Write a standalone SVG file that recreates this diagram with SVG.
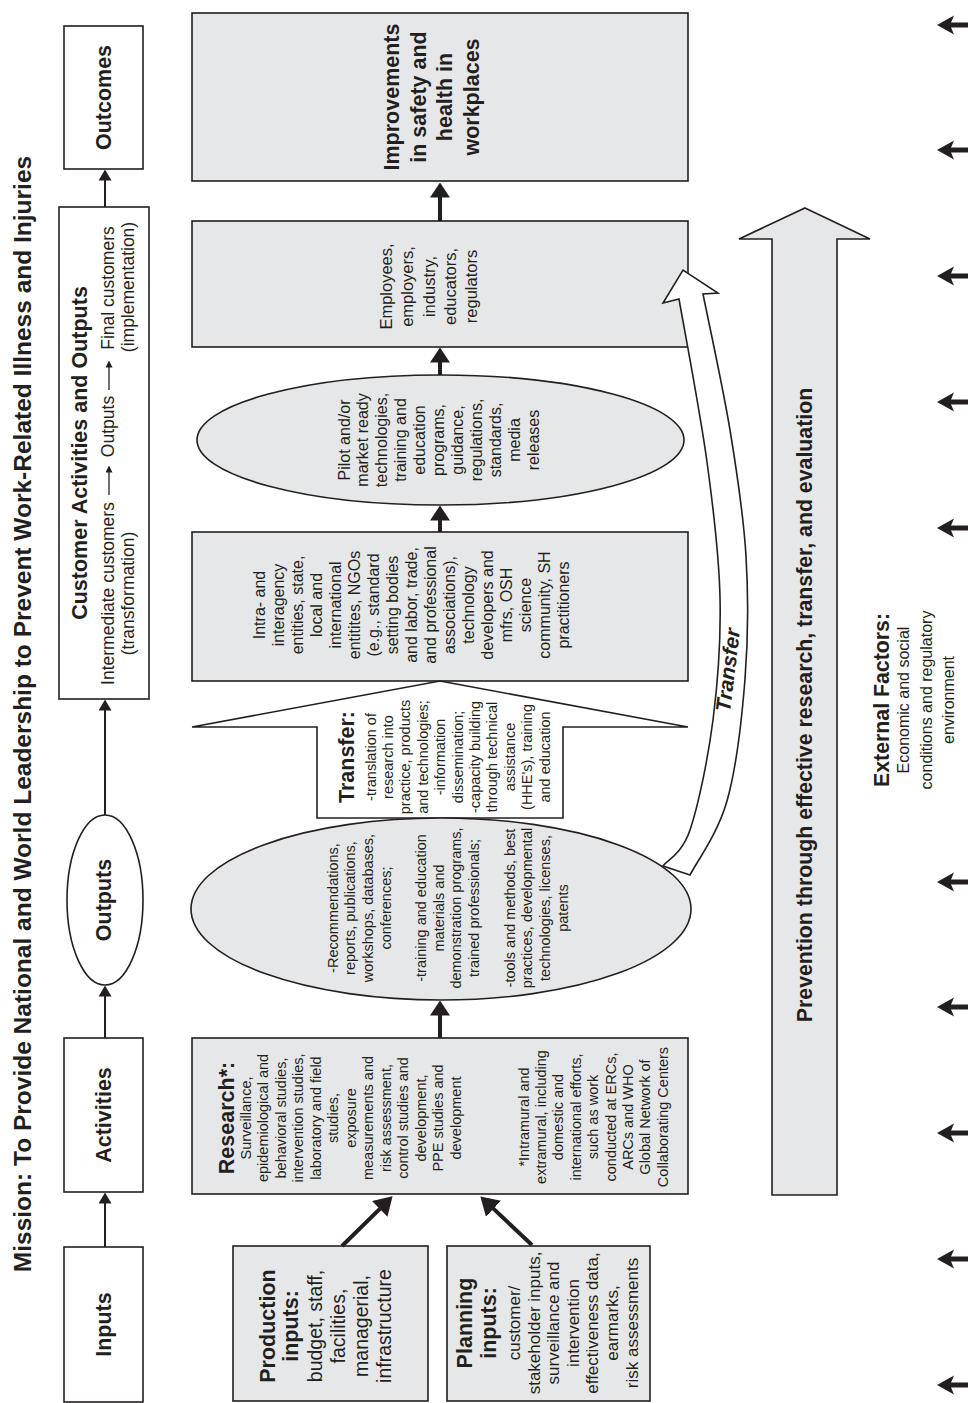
<svg xmlns="http://www.w3.org/2000/svg" width="968" height="1403" viewBox="0 0 968 1403">
<style>
text{font-family:'Liberation Sans',Arial,Helvetica,sans-serif;fill:#231f20;text-anchor:middle}
.ttl{font-size:24.5px;font-weight:bold}
.h{font-size:21.5px;font-weight:bold}
.cs{font-size:17.5px}
.m{font-size:16.5px}
.p{font-size:16px}
.s{font-size:14.5px}
.pr{font-size:19.5px}
.pl{font-size:17px}
.ex{font-size:16px}
.ti{font-size:21px;font-weight:bold;font-style:italic}
.box{fill:#e6e7e8;stroke:#231f20;stroke-width:1.6}
.wbox{fill:#fff;stroke:#231f20;stroke-width:1.6}
.c{fill:none;stroke:#231f20}
.thin{stroke-width:2}
.thick{stroke-width:4}
</style>
<defs>
<marker id="ah" viewBox="0 0 11 13" refX="0.5" refY="6.5" markerWidth="11" markerHeight="13" markerUnits="userSpaceOnUse" orient="auto"><path d="M0,0 L11,6.5 L0,13 z" fill="#231f20"/></marker>
<marker id="ahT" viewBox="0 0 15 20" refX="0.5" refY="10" markerWidth="15" markerHeight="20" markerUnits="userSpaceOnUse" orient="auto"><path d="M0,0 L15,10 L0,20 z" fill="#231f20"/></marker>
<marker id="ahD" viewBox="0 0 18 22" refX="0.5" refY="11" markerWidth="18" markerHeight="22" markerUnits="userSpaceOnUse" orient="auto"><path d="M0,0 L18,11 L0,22 z" fill="#231f20"/></marker>
<marker id="ahS" viewBox="0 0 7 7" refX="0.5" refY="3.5" markerWidth="7" markerHeight="7" markerUnits="userSpaceOnUse" orient="auto"><path d="M0,0 L7,3.5 L0,7 z" fill="#231f20"/></marker>
<g id="xa"><path d="M937,0 L954,-9.5 L950,0 L954,9.5 Z" fill="#231f20"/><rect x="950" y="-2.5" width="18" height="5" fill="#231f20"/></g>
</defs>
<rect width="968" height="1403" fill="#fff"/>

<g id="title"><text class="ttl" transform="translate(0,714) rotate(-90)" x="0" y="31">Mission: To Provide National and World Leadership to Prevent Work-Related Illness and Injuries</text></g>

<g id="inputs"><rect class="wbox" x="64" y="1247" width="79" height="155"/><text class="h" transform="translate(0,1324.5) rotate(-90)" x="0" y="111">Inputs</text></g>
<g id="activities"><rect class="wbox" x="64" y="1038" width="79" height="154"/><text class="h" transform="translate(0,1115) rotate(-90)" x="0" y="111">Activities</text></g>
<g id="outputs"><ellipse class="wbox" cx="105" cy="900" rx="38" ry="85"/><text class="h" transform="translate(0,900) rotate(-90)" x="0" y="111">Outputs</text></g>
<g id="customer"><rect class="wbox" x="59" y="207" width="90" height="492"/>
<text class="h" transform="translate(0,453) rotate(-90)" x="0" y="86.5">Customer Activities and Outputs</text>
<text class="cs" transform="translate(0,593.5) rotate(-90)" x="0" y="113.5">Intermediate customers</text>
<text class="cs" transform="translate(0,426.5) rotate(-90)" x="0" y="113.5">Outputs</text>
<text class="cs" transform="translate(0,288) rotate(-90)" x="0" y="113.5">Final customers</text>
<text class="cs" transform="translate(0,593.5) rotate(-90)" x="0" y="133.5">(transformation)</text>
<text class="cs" transform="translate(0,287) rotate(-90)" x="0" y="133.5">(implementation)</text>
<path class="c" d="M109,495 V472" stroke-width="1.3" marker-end="url(#ahS)"/>
<path class="c" d="M109,390 V367" stroke-width="1.3" marker-end="url(#ahS)"/>
</g>
<g id="outcomes"><rect class="wbox" x="64" y="26" width="79" height="143"/><text class="h" transform="translate(0,97.5) rotate(-90)" x="0" y="111">Outcomes</text></g>

<g id="improvements"><rect class="box" x="192" y="13" width="496" height="168"/>
<text class="h" transform="translate(0,97) rotate(-90)"><tspan x="0" y="399">Improvements</tspan><tspan x="0" y="426">in safety and</tspan><tspan x="0" y="452">health in</tspan><tspan x="0" y="479">workplaces</tspan></text></g>

<g id="employees"><rect class="box" x="192" y="221" width="496" height="126"/>
<text class="m" transform="translate(0,286.5) rotate(-90)"><tspan x="0" y="392">Employees,</tspan><tspan x="0" y="413">employers,</tspan><tspan x="0" y="434.5">industry,</tspan><tspan x="0" y="455.5">educators,</tspan><tspan x="0" y="477">regulators</tspan></text></g>

<g id="final-outputs"><ellipse class="box" cx="440.5" cy="440" rx="243.5" ry="65"/>
<text class="p" transform="translate(0,440) rotate(-90)"><tspan x="0" y="349.5">Pilot and/or</tspan><tspan x="0" y="368.4">market ready</tspan><tspan x="0" y="387.3">technologies,</tspan><tspan x="0" y="406.2">training and</tspan><tspan x="0" y="425.1">education</tspan><tspan x="0" y="444">programs,</tspan><tspan x="0" y="462.9">guidance,</tspan><tspan x="0" y="481.8">regulations,</tspan><tspan x="0" y="500.7">standards,</tspan><tspan x="0" y="519.6">media</tspan><tspan x="0" y="538.5">releases</tspan></text></g>

<g id="intermediate"><rect class="box" x="192" y="532" width="496" height="149"/>
<text class="p" transform="translate(0,605) rotate(-90)"><tspan x="0" y="264.5">Intra- and</tspan><tspan x="0" y="283.5">interagency</tspan><tspan x="0" y="302.5">entities, state,</tspan><tspan x="0" y="321.5">local and</tspan><tspan x="0" y="340.5">international</tspan><tspan x="0" y="359.5">entitites, NGOs</tspan><tspan x="0" y="378.5">(e.g., standard</tspan><tspan x="0" y="397.5">setting bodies</tspan><tspan x="0" y="416.5">and labor, trade,</tspan><tspan x="0" y="435.5">and professional</tspan><tspan x="0" y="454.5">associations),</tspan><tspan x="0" y="473.5">technology</tspan><tspan x="0" y="492.5">developers and</tspan><tspan x="0" y="511.5">mfrs, OSH</tspan><tspan x="0" y="530.5">science</tspan><tspan x="0" y="549.5">community, SH</tspan><tspan x="0" y="568.5">practitioners</tspan></text></g>

<g id="transfer"><polygon class="wbox" points="440,681 688,727 563,727 563,818 317,818 317,727 192,727"/>
<text transform="translate(0,757) rotate(-90)"><tspan class="h" x="0" y="353.5">Transfer:</tspan><tspan class="s" x="0" y="375.5">-translation of</tspan><tspan class="s" x="0" y="392.9">research into</tspan><tspan class="s" x="0" y="410.3">practice, products</tspan><tspan class="s" x="0" y="427.7">and technologies;</tspan><tspan class="s" x="0" y="445.1">-information</tspan><tspan class="s" x="0" y="462.5">dissemination;</tspan><tspan class="s" x="0" y="479.9">-capacity building</tspan><tspan class="s" x="0" y="497.3">through technical</tspan><tspan class="s" x="0" y="514.7">assistance</tspan><tspan class="s" x="0" y="532.1">(HHE's), training</tspan><tspan class="s" x="0" y="549.5">and education</tspan></text></g>

<g id="research-outputs"><ellipse class="box" cx="441" cy="909" rx="250" ry="91"/>
<text class="s" transform="translate(0,908) rotate(-90)"><tspan x="0" y="337.5">-Recommendations,</tspan><tspan x="0" y="355.2">reports, publications,</tspan><tspan x="0" y="372.9">workshops, databases,</tspan><tspan x="0" y="390.6">conferences;</tspan><tspan x="0" y="426">-training and education</tspan><tspan x="0" y="443.7">materials and</tspan><tspan x="0" y="461.4">demonstration programs,</tspan><tspan x="0" y="479.1">trained professionals;</tspan><tspan x="0" y="514.5">-tools and methods, best</tspan><tspan x="0" y="532.2">practices, developmental</tspan><tspan x="0" y="549.9">technologies, licenses,</tspan><tspan x="0" y="567.6">patents</tspan></text></g>

<g id="research"><rect class="box" x="192" y="1038" width="496" height="156"/>
<text transform="translate(0,1118) rotate(-90)"><tspan class="h" x="0" y="233.5">Research*:</tspan><tspan class="s" x="0" y="250.5">Surveillance,</tspan><tspan class="s" x="0" y="268">epidemiological and</tspan><tspan class="s" x="0" y="285.5">behavioral studies,</tspan><tspan class="s" x="0" y="303">intervention studies,</tspan><tspan class="s" x="0" y="320.5">laboratory and field</tspan><tspan class="s" x="0" y="338">studies,</tspan><tspan class="s" x="0" y="355.5">exposure</tspan><tspan class="s" x="0" y="373">measurements and</tspan><tspan class="s" x="0" y="390.5">risk assessment,</tspan><tspan class="s" x="0" y="408">control studies and</tspan><tspan class="s" x="0" y="425.5">development,</tspan><tspan class="s" x="0" y="443">PPE studies and</tspan><tspan class="s" x="0" y="460.5">development</tspan></text>
<text class="s" transform="translate(0,1117) rotate(-90)"><tspan x="0" y="528.5">*Intramural and</tspan><tspan x="0" y="545.9">extramural, including</tspan><tspan x="0" y="563.3">domestic and</tspan><tspan x="0" y="580.7">international efforts,</tspan><tspan x="0" y="598.1">such as work</tspan><tspan x="0" y="615.5">conducted at ERCs,</tspan><tspan x="0" y="632.9">ARCs and WHO</tspan><tspan x="0" y="650.3">Global Network of</tspan><tspan x="0" y="667.7">Collaborating Centers</tspan></text></g>

<g id="production"><rect class="box" x="233" y="1246" width="195" height="155"/>
<text transform="translate(0,1326) rotate(-90)"><tspan class="h" x="0" y="274.5">Production</tspan><tspan class="h" x="0" y="298">inputs:</tspan><tspan class="pr" x="0" y="322">budget, staff,</tspan><tspan class="pr" x="0" y="345">facilities,</tspan><tspan class="pr" x="0" y="368">managerial,</tspan><tspan class="pr" x="0" y="391">infrastructure</tspan></text></g>

<g id="planning"><rect class="box" x="447" y="1246" width="203" height="155"/>
<text transform="translate(0,1323) rotate(-90)"><tspan class="h" x="0" y="472">Planning</tspan><tspan class="h" x="0" y="496">inputs:</tspan><tspan class="pl" x="0" y="520">customer/</tspan><tspan class="pl" x="0" y="539.6">stakeholder inputs,</tspan><tspan class="pl" x="0" y="559.2">surveillance and</tspan><tspan class="pl" x="0" y="578.8">intervention</tspan><tspan class="pl" x="0" y="598.4">effectiveness data,</tspan><tspan class="pl" x="0" y="618">earmarks,</tspan><tspan class="pl" x="0" y="637.6">risk assessments</tspan></text></g>

<g id="transfer-arrow"><path class="wbox" stroke-linejoin="miter" d="M690,875 L663,866 C667.5,860 681.7,854.3 690,830 C698.3,805.7 708,758.8 713,720 C718,681.2 721,640 720,597 C719,554 713.8,511.7 707,462 C700.2,412.3 683.7,326.2 679,299 L663,303 L683,270 L718,293 L703,294 C707.5,316.7 722.8,386.3 730,430 C737.2,473.7 743.5,514.5 746,556 C748.5,597.5 748.2,638.2 745,679 C741.8,719.8 736.2,768.3 727,801 C717.8,833.7 696.2,862.7 690,875 Z"/>
<text class="ti" transform="translate(735,671) rotate(-83)" x="0" y="0">Transfer</text></g>

<g id="prevention"><polygon class="box" stroke-width="2" points="805,208 870,239 837,239 837,1195 772,1195 772,239 739,239"/>
<text class="h" transform="translate(0,705) rotate(-90)" x="0" y="812" style="font-size:21.3px">Prevention through effective research, transfer, and evaluation</text></g>

<g id="external-factors"><text transform="translate(0,700) rotate(-90)"><tspan class="h" x="0" y="888.5" style="font-size:21.3px">External Factors:</tspan><tspan class="ex" x="0" y="909">Economic and social</tspan><tspan class="ex" x="0" y="931.5">conditions and regulatory</tspan><tspan class="ex" x="0" y="954">environment</tspan></text></g>

<g id="connectors">
<path class="c thin" d="M105,1247 V1203" marker-end="url(#ah)"/>
<path class="c thin" d="M105,1038 V996" marker-end="url(#ah)"/>
<path class="c thin" d="M105,815 V710" marker-end="url(#ah)"/>
<path class="c thin" d="M105,207 V180" marker-end="url(#ah)"/>
<path class="c thick" d="M440,1038 V1015" marker-end="url(#ahT)"/>
<path class="c thick" d="M440,532 V520" marker-end="url(#ahT)"/>
<path class="c thick" d="M440,375 V362" marker-end="url(#ahT)"/>
<path class="c thick" d="M440,221 V197" marker-end="url(#ahT)"/>
<path class="c thick" d="M342,1246 L380.1,1208.6" marker-end="url(#ahD)"/>
<path class="c thick" d="M532,1245 L493.1,1208.4" marker-end="url(#ahD)"/>
</g>

<g id="external-arrows">
<use href="#xa" transform="translate(0,25)"/>
<use href="#xa" transform="translate(0,150)"/>
<use href="#xa" transform="translate(0,276)"/>
<use href="#xa" transform="translate(0,402)"/>
<use href="#xa" transform="translate(0,528)"/>
<use href="#xa" transform="translate(0,882)"/>
<use href="#xa" transform="translate(0,1007)"/>
<use href="#xa" transform="translate(0,1133)"/>
<use href="#xa" transform="translate(0,1259)"/>
<use href="#xa" transform="translate(0,1385)"/>
</g>
</svg>
